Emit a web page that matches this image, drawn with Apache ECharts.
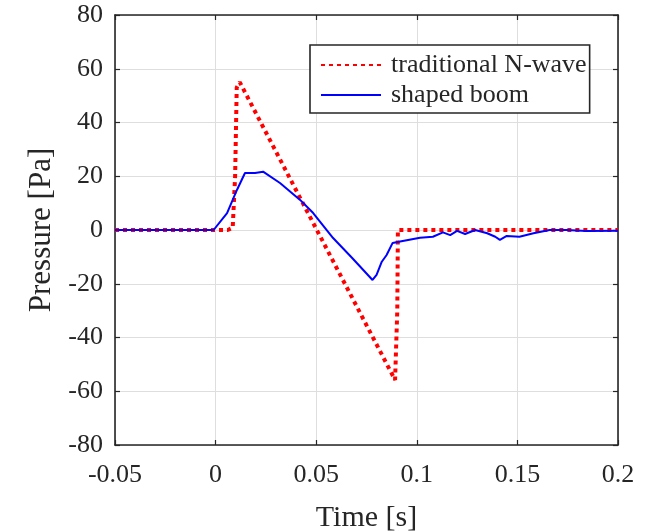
<!DOCTYPE html>
<html>
<head>
<meta charset="utf-8">
<script src="https://cdn.jsdelivr.net/npm/echarts@6/dist/echarts.min.js"></script>
<style>html,body{margin:0;padding:0;background:#fff;}#c{width:646px;height:532px;}</style>
</head>
<body>
<div id="c"></div>
<script>
var xTicks = [-0.05, 0, 0.05, 0.1, 0.15, 0.2];
var yTicks = [-80, -60, -40, -20, 0, 20, 40, 60, 80];
var nwaveT = [-0.05, 0.006, 0.0085, 0.0097, 0.0105, 0.012, 0.0892, 0.0903, 0.0906, 0.2];
var nwaveP = [0, 0, 0.8, 20, 53, 55, -55.8, -30, 0, 0];
var boomT = [-0.05, -0.001, 0.0057, 0.0106, 0.0146, 0.0196, 0.0236, 0.032, 0.042, 0.0485, 0.0584, 0.068, 0.078, 0.080, 0.0826, 0.085, 0.088, 0.0917, 0.1016, 0.108, 0.113, 0.1166, 0.12, 0.124, 0.129, 0.135, 0.139, 0.1413, 0.1447, 0.151, 0.158, 0.166, 0.1745, 0.1845, 0.2];
var boomP = [0, 0, 6.3, 14.9, 21.2, 21.2, 21.7, 17.5, 11.2, 6.3, -3, -10.5, -18.6, -16.7, -11.8, -9.3, -4.8, -4.3, -2.9, -2.5, -0.9, -1.9, -0.3, -1.5, 0, -1.2, -2.5, -3.7, -2.2, -2.5, -1.2, 0, 0, -0.4, -0.3];
var seriesNames = ['traditional N-wave', 'shaped boom'];

function zip(a, b) { return a.map(function (v, i) { return [v, b[i]]; }); }
var FONT = 'Liberation Serif';
var AX = '#262626';
function fmt(v) { return String(parseFloat(v.toFixed(3))); }

var chart = echarts.init(document.getElementById('c'), null, {renderer: 'canvas'});
var baseX = {
  type: 'value', min: xTicks[0], max: xTicks[xTicks.length - 1], interval: 0.05,
  axisLine: {show: true, onZero: false, lineStyle: {color: AX, width: 1.6}},
  axisTick: {show: true, inside: true, length: 5, lineStyle: {color: AX, width: 1.2}},
  splitLine: {show: true, lineStyle: {color: '#dedede', width: 1}}
};
var baseY = {
  type: 'value', min: yTicks[0], max: yTicks[yTicks.length - 1], interval: 20,
  axisLine: {show: true, onZero: false, lineStyle: {color: AX, width: 1.6}},
  axisTick: {show: true, inside: true, length: 5, lineStyle: {color: AX, width: 1.2}},
  splitLine: {show: true, lineStyle: {color: '#dedede', width: 1}}
};
chart.setOption({
  animation: false,
  backgroundColor: '#fff',
  grid: {left: 115, right: 28, top: 15, bottom: 87, containLabel: false, outerBoundsMode: 'none'},
  legend: {
    orient: 'vertical', left: 310, top: 45,
    data: seriesNames,
    backgroundColor: '#fff',
    borderColor: AX, borderWidth: 1.6, borderRadius: 0,
    padding: [7, 3, 5, 10], itemGap: 4,
    itemWidth: 60, itemHeight: 14,
    itemStyle: {opacity: 0},
    textStyle: {fontFamily: FONT, fontSize: 26, color: AX, lineHeight: 26, padding: [0, 0, 0, 5]}
  },
  xAxis: [
    Object.assign({}, baseX, {
      position: 'bottom',
      name: 'Time [s]', nameLocation: 'middle', nameGap: 58,
      nameTextStyle: {fontFamily: FONT, fontSize: 30, color: AX},
      axisLabel: {fontFamily: FONT, fontSize: 26, color: AX, margin: 17, formatter: fmt}
    }),
    Object.assign({}, baseX, {position: 'top', axisLabel: {show: false}, splitLine: {show: false}})
  ],
  yAxis: [
    Object.assign({}, baseY, {
      position: 'left',
      name: 'Pressure [Pa]', nameLocation: 'middle', nameGap: 56,
      nameTextStyle: {fontFamily: FONT, fontSize: 31, color: AX},
      axisLabel: {fontFamily: FONT, fontSize: 26, color: AX, margin: 12, padding: [6, 0, 0, 0]}
    }),
    Object.assign({}, baseY, {position: 'right', axisLabel: {show: false}, splitLine: {show: false}})
  ],
  series: [
    {
      name: seriesNames[0], type: 'line', xAxisIndex: 0, yAxisIndex: 0,
      data: zip(nwaveT, nwaveP), symbol: 'none', z: 2,
      lineStyle: {color: '#ff0000', width: 4, type: [4, 4], cap: 'butt'},
      itemStyle: {color: '#ff0000'}
    },
    {
      name: seriesNames[1], type: 'line', xAxisIndex: 0, yAxisIndex: 0,
      data: zip(boomT, boomP), symbol: 'none', z: 3,
      lineStyle: {color: '#0000ff', width: 2},
      itemStyle: {color: '#0000ff'}
    }
  ]
});
</script>
</body>
</html>
